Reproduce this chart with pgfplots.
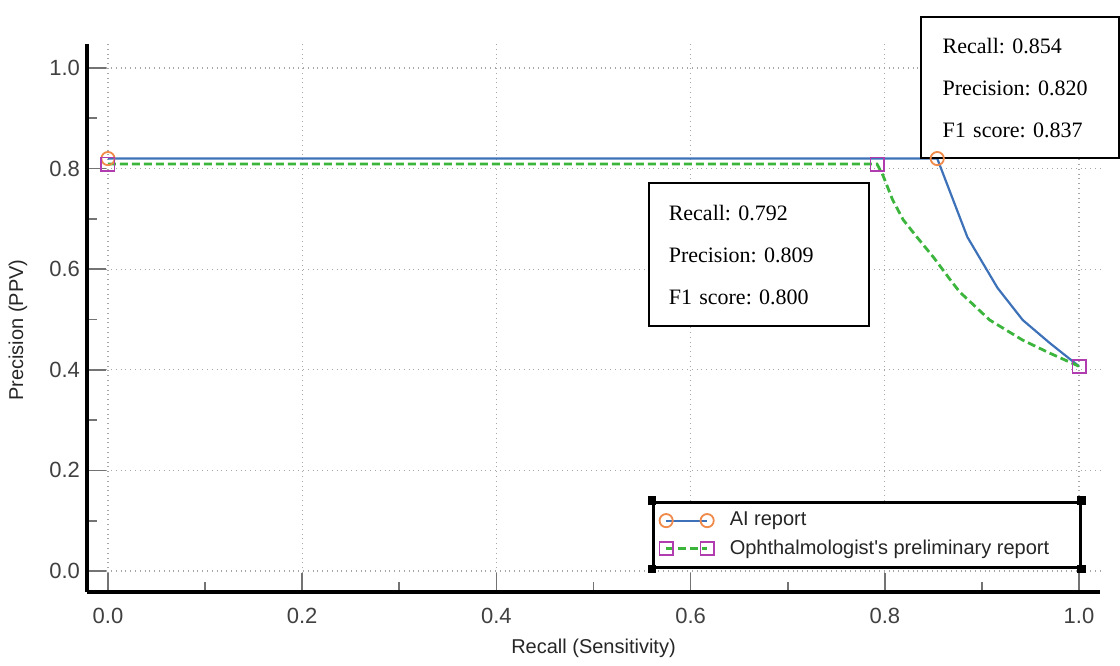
\documentclass[border=0pt]{standalone}
\usepackage{fontspec}
\setmainfont{Liberation Serif}
\setsansfont{Liberation Sans}
\usepackage{pgfplots}
\pgfplotsset{compat=1.18}
\definecolor{aiblue}{HTML}{3E72B8}
\definecolor{aiorange}{HTML}{F08A4B}
\definecolor{opgreen}{HTML}{3CB53C}
\definecolor{opmag}{HTML}{B03CB0}
\frenchspacing
\begin{document}
\begin{tikzpicture}[x=1pt,y=1pt]
\begin{axis}[
  scale only axis, width=506.5pt, height=274pt,
  xmin=-0.0216, xmax=1.0216, ymin=-0.0417, ymax=1.0477,
  clip=false,
  axis x line*=bottom, axis y line*=left,
  axis line style={line width=2pt, black, -},
  xtick={0,0.2,0.4,0.6,0.8,1.0},
  ytick={0,0.2,0.4,0.6,0.8,1.0},
  minor xtick={0.1,0.3,0.5,0.7,0.9},
  minor ytick={0.1,0.3,0.5,0.7,0.9},
  tick align=inside,
  major tick length=9.5pt, minor tick length=5pt,
  tick style={black!55, line width=0.8pt},
  grid=major, major grid style={dotted, black!35, line width=0.6pt},
  tick label style={/pgf/number format/fixed, /pgf/number format/fixed zerofill,
    /pgf/number format/precision=1, /pgf/number format/assume math mode=true,
    font=\sffamily\fontsize{11}{13}\selectfont, text=black!75},
  xticklabel style={yshift=-4.5pt},
  xlabel={Recall (Sensitivity)}, ylabel={Precision (PPV)},
  every axis x label/.style={at={(axis description cs:0.5,0)}, anchor=center, yshift=-28pt,
    font=\sffamily\fontsize{10}{12}\selectfont, text=black!85},
  every axis y label/.style={at={(axis description cs:-0.0681,0.478)}, anchor=center, rotate=90,
    font=\sffamily\fontsize{10}{12}\selectfont, text=black!85},
  legend style={name=leg, at={(0.982,0.042)}, anchor=south east, draw=black, line width=1.5pt,
    font=\sffamily\fontsize{10}{13}\selectfont, text=black!85, inner xsep=3pt, inner ysep=3pt,
    row sep=1.5pt},
  legend cell align=left,
  legend image code/.code={\path[draw=none] (-3.3pt,0pt) -- (29.8pt,0pt);
    \draw[#1,mark repeat=1,mark phase=1] plot coordinates {(0pt,0pt) (20.5pt,0pt)};},
]
\addplot[aiblue, line width=1.1pt, mark=o, mark size=3.3pt, mark indices={1,2},
  mark options={solid, draw=aiorange, fill=white, line width=0.9pt}]
  coordinates {(0,0.820) (0.854,0.820) (0.885,0.664) (0.916,0.563) (0.942,0.499) (0.970,0.453) (1.0,0.407)};
\addlegendentry{AI report}
\addplot[opgreen, line width=1.4pt, dash pattern=on 4pt off 2pt, mark=square, mark size=3.3pt, mark indices={1,2,13},
  mark options={solid, draw=opmag, fill=white, line width=0.9pt}]
  coordinates {(0,0.809) (0.792,0.809) (0.798,0.787) (0.808,0.738) (0.819,0.698) (0.833,0.664)
    (0.850,0.624) (0.867,0.580) (0.877,0.555) (0.908,0.499) (0.942,0.459) (0.970,0.433) (1.0,0.407)};
\addlegendentry{Ophthalmologist\textquotesingle s preliminary report\hspace{10.5pt}\null}
\node[draw, line width=0.9pt, fill=white, anchor=north west, minimum width=110pt, minimum height=71.5pt,
  text width=90pt, inner xsep=10pt, align=left, font=\fontsize{11}{21}\selectfont]
  at (axis cs:0.556,0.773) {Recall: 0.792\\Precision: 0.809\\F1 score: 0.800};
\node[draw, line width=0.9pt, fill=white, anchor=north west, minimum width=99pt, minimum height=70.5pt,
  text width=77pt, inner xsep=11pt, align=left, font=\fontsize{11}{21}\selectfont]
  at (axis cs:0.836,1.103) {Recall: 0.854\\Precision: 0.820\\F1 score: 0.837};
\end{axis}
\foreach \a in {north west, north east, south west, south east}
  \fill[black] (leg.\a) +(-2.2pt,-2.2pt) rectangle +(2.2pt,2.2pt);
\pgfresetboundingbox
\path (-43.5pt,-36.5pt) rectangle (516.5pt,296pt);
\end{tikzpicture}
\end{document}
